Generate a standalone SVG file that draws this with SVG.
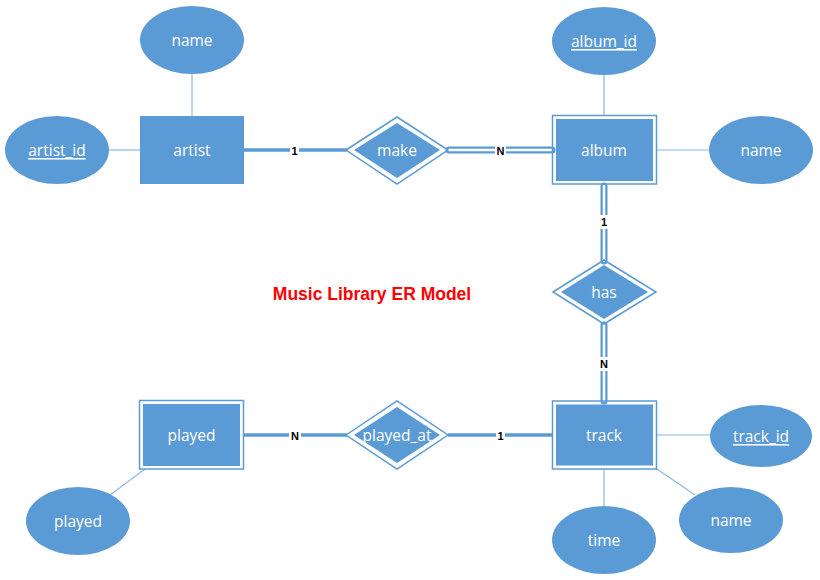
<svg xmlns="http://www.w3.org/2000/svg" width="820" height="580" viewBox="0 0 820 580">
<style>
.fill{fill:#5B9BD5;}
.outl{fill:none;stroke:#5B9BD5;stroke-width:1.5;}
.attr{stroke:#8DB8E3;stroke-width:1.2;fill:none;}
.rel{stroke:#5B9BD5;stroke-width:3.5;fill:none;}
.dblo{stroke:#5B9BD5;stroke-width:7;fill:none;stroke-linecap:round;}
.dbli{stroke:#FFFFFF;stroke-width:2.5;fill:none;stroke-linecap:round;}
.t{font-family:"Open Sans","Liberation Sans",sans-serif;font-size:15.5px;fill:#FFFFFF;text-anchor:middle;dominant-baseline:central;}
.u{text-decoration:underline;}
.lbl{font-family:"Liberation Sans",Arial,sans-serif;font-size:11px;font-weight:bold;fill:#000000;text-anchor:middle;dominant-baseline:central;}
.lb{fill:#FFFFFF;}
</style>
<rect width="820" height="580" fill="#FFFFFF"/>
<g id="connectors">
<line class="attr" x1="192" y1="74" x2="192" y2="116"/>
<line class="attr" x1="109" y1="150" x2="140" y2="150"/>
<line class="attr" x1="604" y1="75" x2="604" y2="115"/>
<line class="attr" x1="657" y1="150" x2="710" y2="150"/>
<line class="attr" x1="657" y1="435" x2="710" y2="435"/>
<line class="attr" x1="604" y1="469" x2="604" y2="506"/>
<line class="attr" x1="657" y1="469" x2="695" y2="495"/>
<line class="attr" x1="145" y1="469" x2="110" y2="495"/>
<line class="rel" x1="244" y1="150" x2="347" y2="150"/>
<line class="dblo" x1="449" y1="150" x2="552" y2="150"/>
<line class="dbli" x1="449" y1="150" x2="552" y2="150"/>
<line class="dblo" x1="604" y1="186" x2="604" y2="261"/>
<line class="dbli" x1="604" y1="186" x2="604" y2="261"/>
<line class="dblo" x1="604" y1="325" x2="604" y2="401"/>
<line class="dbli" x1="604" y1="325" x2="604" y2="401"/>
<line class="rel" x1="244" y1="435" x2="347" y2="435"/>
<line class="rel" x1="448" y1="435" x2="552" y2="435"/>
<rect class="lb" x="290" y="144" width="9" height="12"/>
<text class="lbl" x="294.5" y="150.5">1</text>
<rect class="lb" x="495" y="144" width="11" height="12"/>
<text class="lbl" x="500.5" y="150.5">N</text>
<rect class="lb" x="599" y="215" width="10" height="14"/>
<text class="lbl" x="604" y="222">1</text>
<rect class="lb" x="598" y="357" width="12" height="14"/>
<text class="lbl" x="604" y="364">N</text>
<rect class="lb" x="289" y="429" width="12" height="12"/>
<text class="lbl" x="295" y="435.5">N</text>
<rect class="lb" x="496" y="429" width="9" height="12"/>
<text class="lbl" x="500.5" y="435.5">1</text>
</g>
<g id="artist">
<rect class="fill" x="140" y="116" width="104" height="68"/>
<text class="t" x="192" y="150">artist</text>
</g>
<g id="artist_name">
<ellipse class="fill" cx="192" cy="40" rx="52" ry="34"/>
<text class="t" x="192" y="40">name</text>
</g>
<g id="artist_id">
<ellipse class="fill" cx="57" cy="150" rx="52" ry="34"/>
<text class="t u" x="57" y="150">artist_id</text>
</g>
<g id="make">
<polygon class="outl" points="346,150 397,117 448,150 397,184"/>
<polygon class="fill" points="354,150 397,123 440,150 397,178"/>
<text class="t" x="397" y="150">make</text>
</g>
<g id="album">
<rect class="outl" x="552.5" y="115.5" width="104" height="68.5"/>
<rect class="fill" x="556" y="119" width="97" height="62"/>
<text class="t" x="604" y="150">album</text>
</g>
<g id="album_id">
<ellipse class="fill" cx="604" cy="41" rx="52" ry="34"/>
<text class="t u" x="604" y="41">album_id</text>
</g>
<g id="album_name">
<ellipse class="fill" cx="761" cy="150" rx="52" ry="34"/>
<text class="t" x="761" y="150">name</text>
</g>
<g id="has">
<polygon class="outl" points="553,292 604,260 656,292 604,324"/>
<polygon class="fill" points="561,292 604,265 648,292 604,319"/>
<text class="t" x="604" y="292">has</text>
</g>
<g id="track">
<rect class="outl" x="552.5" y="401" width="104" height="68"/>
<rect class="fill" x="556" y="404.5" width="97" height="61"/>
<text class="t" x="604" y="435">track</text>
</g>
<g id="track_id">
<ellipse class="fill" cx="761" cy="436" rx="51" ry="31"/>
<text class="t u" x="761" y="436">track_id</text>
</g>
<g id="track_name">
<ellipse class="fill" cx="731" cy="520" rx="52" ry="33"/>
<text class="t" x="731" y="520">name</text>
</g>
<g id="time">
<ellipse class="fill" cx="604" cy="540" rx="52" ry="34"/>
<text class="t" x="604" y="540">time</text>
</g>
<g id="played_at">
<polygon class="outl" points="346,435 397,401 448,435 397,469"/>
<polygon class="fill" points="354,435 397,407 440,435 397,463"/>
<text class="t" x="397" y="435">played_at</text>
</g>
<g id="played">
<rect class="outl" x="139.5" y="400.5" width="104" height="68.5"/>
<rect class="fill" x="143" y="404" width="97" height="62"/>
<text class="t" x="191.5" y="435">played</text>
</g>
<g id="played_attr">
<ellipse class="fill" cx="78" cy="521" rx="52" ry="34"/>
<text class="t" x="78" y="521">played</text>
</g>
<g id="title">
<text x="372" y="294" style="font-family:'Liberation Sans',Arial,sans-serif;font-size:17.5px;font-weight:bold;fill:#FF0000;text-anchor:middle;dominant-baseline:central;">Music Library ER Model</text>
</g>
</svg>
